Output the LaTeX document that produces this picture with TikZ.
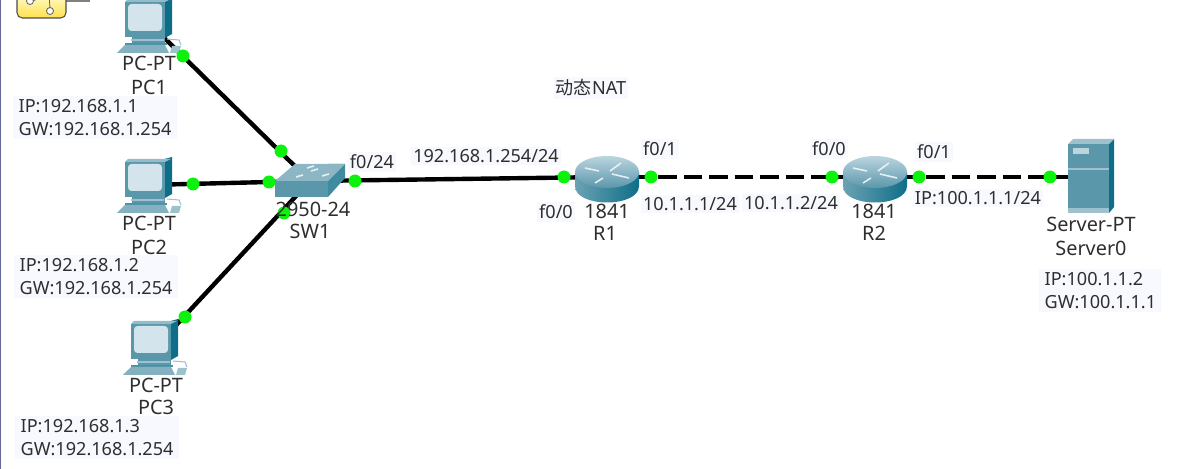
\documentclass[tikz,border=0pt]{standalone}
\usepackage{fontspec}
\setmainfont{Noto Sans}
\newfontfamily\cjkfont{Noto Sans CJK SC}
\usetikzlibrary{positioning,calc}
\definecolor{iconteal}{HTML}{5B97AB}
\definecolor{icondark}{HTML}{0F6E87}
\definecolor{iconpale}{HTML}{D3E4EC}
\definecolor{portgreen}{HTML}{0DF20D}
\definecolor{labelbg}{HTML}{F8F9FF}

\begin{document}
\begin{tikzpicture}[%
    x=0.02cm,
    y=-0.02cm,
    font=\fontsize{10.3}{12}\selectfont,
    text=black!82,
    devpoint/.style={%
      circle,
      inner sep=0pt,
      minimum size=0pt
    },
    port/.style={%
      circle,
      fill=portgreen,
      inner sep=0pt,
      minimum size=0.26cm
    },
    link/.style={%
      draw,
      line width=2.5pt
    },
    dashlink/.style={%
      link,
      dash pattern=on 10.5pt off 4pt
    },
    devlabel/.style={%
      inner sep=0pt,
      align=center,
      font=\fontsize{11.3}{13}\selectfont
    },
    tag/.style={%
      fill=labelbg,
      inner xsep=1pt,
      inner ysep=1.5pt
    },
    addrbox/.style={%
      fill=labelbg,
      align=left,
      anchor=north west,
      inner xsep=3pt,
      inner ysep=1.5pt,
      font=\fontsize{10.3}{13.6}\selectfont
    },
    pcicon/.pic={
      \fill[icondark] (14,-26) -- (25,-29) -- (25,8) -- (18,12) -- (14,12) -- cycle;
      \fill[iconteal!65] (-22,-24) -- (-19,-27) -- (24,-27) -- (18,-24) -- cycle;
      \fill[iconteal] (-22,-24) rectangle (18,11);
      \fill[iconpale, rounded corners=2pt] (-19,-22) rectangle (15,5);
      \fill[iconteal] (-15,11) rectangle (18,17);
      \fill[iconteal!60] (-16,13) rectangle (17,15);
      \fill[icondark!75] (-22,17) rectangle (20,19);
      \fill[iconteal!75] (-22,19) -- (18,19) -- (22,27) -- (-30,27) -- cycle;
      \draw[iconteal!60, line width=0.6pt] (20,13) -- (32,14) -- (34,19);
      \fill[iconteal!60] (25,20) -- (34,20) -- (32,27) -- (23,27) -- cycle;
    },
    switchicon/.pic={
      \fill[icondark!80] (18,-17) -- (35,-17) -- (35,-3) -- (18,16) -- cycle;
      \fill[iconteal] (-35,0) rectangle (18,16);
      \fill[iconteal!70] (-35,0) -- (-15,-17) -- (35,-17) -- (18,0) -- cycle;
      \foreach \sx/\sy in {-14/-4, 1/-10, 12/-5, -3/-13}
        \draw[white!85!iconteal, line width=0.9pt] (\sx,\sy) -- ++(7,-2);
    },
    routericon/.pic={
      \shade[left color=iconteal!90, middle color=iconpale, right color=icondark]
        (-32,-5) -- (-32,9) .. controls (-32,31) and (32,31) .. (32,9) -- (32,-5) -- cycle;
      \shade[top color=iconpale!80!iconteal, bottom color=iconteal] (0,-5) ellipse [x radius=32, y radius=16];
      \draw[white!85!iconteal, line width=0.9pt] (-22,-9) -- (-8,-6)
        (3,-6) -- (14,-14) (5,-3) -- (22,1) (-12,6) -- (-4,1);
    },
    servericon/.pic={
      \fill[icondark] (18,-34) -- (23,-38) -- (23,30) -- (18,36) -- cycle;
      \fill[iconteal!60] (-23,-33) -- (-18,-38) -- (23,-38) -- (18,-33) -- cycle;
      \fill[iconteal] (-23,-33) rectangle (18,36);
      \fill[iconteal!60] (-23,-9) rectangle (18,-7);
      \fill[iconteal!60] (-23,31) rectangle (18,36);
      \fill[iconpale!80!iconteal] (-18,-29) rectangle (-2,-23);
    }
  ]
    \useasboundingbox (0,0) rectangle (1187,469);

    % window edge and the note icon in the corner
    \draw[gray!80!blue, line width=1pt] (0.5,0) -- (0.5,469);
    \draw[gray, line width=0.8pt] (66,1) -- (90,1);
    \draw[black!70, top color=yellow!15, bottom color=yellow!65!orange!70, rounded corners=3pt, line width=0.6pt]
      (17,-8) rectangle (66,18);
    \draw[black!60, line width=0.5pt, fill=white] (30,1) circle [radius=3.5] (50,11) circle [radius=3.5];
    \draw[black!60, line width=0.5pt] (33,1) -- (47,-6) (49,-6) -- (50,8);

    \node[devpoint] (PC1) at (147,21) {};
    \node[devpoint] (PC2) at (147,185) {};
    \node[devpoint] (PC3) at (153,350) {};
    \node[devpoint] (SW1) at (310,181) {};
    \node[devpoint] (R1) at (607,177) {};
    \node[devpoint] (R2) at (875,177) {};
    \node[devpoint] (Server0) at (1091,177) {};

    \path[link] (PC1) edge (SW1)
                (PC2) edge (SW1)
                (PC3) edge (SW1)
                (SW1) edge (R1);
    \path[dashlink] (R1) edge (R2)
                    (R2) edge (Server0);

    \pic at (147,26) {pcicon};
    \pic at (147,186) {pcicon};
    \pic at (153,348) {pcicon};
    \pic at (SW1) {switchicon};
    \pic at (R1) {routericon};
    \pic at (R2) {routericon};
    \pic at (Server0) {servericon};

    \node[port] (p1) at (183,56) {};
    \node[port] (p2) at (281,151) {};
    \node[port] (p3) at (193,184) {};
    \node[port] (p4) at (269,182) {};
    \node[port] (p5) at (185,317) {};
    \node[port] (p6) at (284,213) {};
    \node[port] (p7) at (355,181) {};
    \node[port] (p8) at (564,177) {};
    \node[port] (p9) at (651,177) {};
    \node[port] (p10) at (832,177) {};
    \node[port] (p11) at (919,177) {};
    \node[port] (p12) at (1050,177) {};

    \node[devlabel] (PC1a) at (149,63) {PC-PT};
    \node[devlabel] (PC1b) at (149,87) {PC1};
    \node[devlabel] (PC2a) at (149,223) {PC-PT};
    \node[devlabel] (PC2b) at (149,247) {PC2};
    \node[devlabel] (PC3a) at (156,385) {PC-PT};
    \node[devlabel] (PC3b) at (156,407) {PC3};
    \node[devlabel] (SW1a) at (313,209) {2950-24};
    \node[devlabel] (SW1b) at (310,231) {SW1};
    \node[devlabel] (R1a) at (607,211) {1841};
    \node[devlabel] (R1b) at (605,233) {R1};
    \node[devlabel] (R2a) at (874,211) {1841};
    \node[devlabel] (R2b) at (874,233) {R2};
    \node[devlabel] (Server0a) at (1091,224) {Server-PT};
    \node[devlabel] (Server0b) at (1091,248) {Server0};

    \node[tag] (t1) at (372,162) {f0/24};
    \node[tag] (t2) at (486,156) {192.168.1.254/24};
    \node[tag] (t3) at (556,212) {f0/0};
    \node[tag] (t4) at (660,149) {f0/1};
    \node[tag] (t5) at (690,204) {10.1.1.1/24};
    \node[tag] (t6) at (791,203) {10.1.1.2/24};
    \node[tag] (t7) at (829,149) {f0/0};
    \node[tag] (t8) at (934,152) {f0/1};
    \node[tag] (t9) at (978,198) {IP:100.1.1.1/24};
    \node[tag] (t10) at (591,88) {{\cjkfont 动态}NAT};

    \node[addrbox] (a1) at (13,96) {IP:192.168.1.1\\GW:192.168.1.254};
    \node[addrbox] (a2) at (14,255) {IP:192.168.1.2\\GW:192.168.1.254};
    \node[addrbox] (a3) at (15,416) {IP:192.168.1.3\\GW:192.168.1.254};
    \node[addrbox] (a4) at (1039,269) {IP:100.1.1.2\\GW:100.1.1.1};
\end{tikzpicture}
\end{document}
